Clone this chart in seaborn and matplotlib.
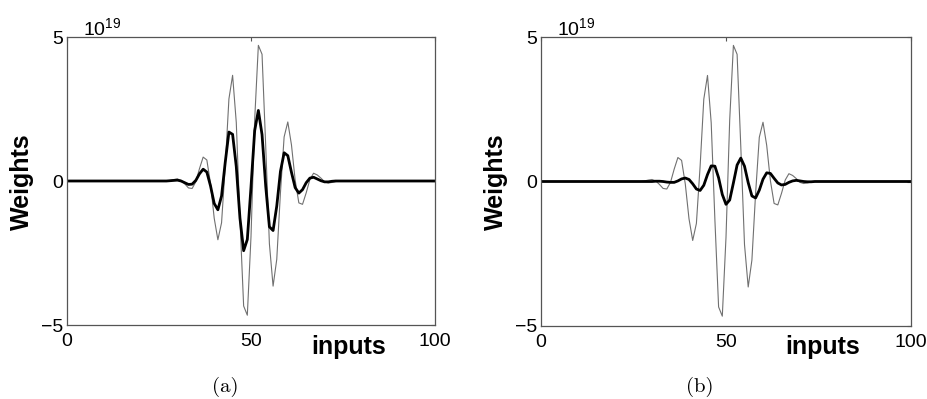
import numpy as np
import pandas as pd
import matplotlib
matplotlib.use("Agg")
import matplotlib.pyplot as plt
import seaborn as sns

# ---------------- data (weights in units of 1e19) ----------------
inputs = np.arange(0, 101)          # input index 0..100
active_start = 28                   # first index of the non-zero stretch

thin_weights = [0.02, 0.05, 0.07, 0.02, -0.10, -0.24, -0.26, -0.03, 0.43, 0.83,
                0.73, -0.09, -1.29, -2.04, -1.45, 0.52, 2.85, 3.67, 2.03, -1.33,
                -4.34, -4.66, -1.93, 2.13, 4.71, 4.40, 1.20, -2.18, -3.65, -2.72,
                -0.41, 1.53, 2.05, 1.25, 0.03, -0.76, -0.81, -0.41, 0.05, 0.27,
                0.21, 0.10, -0.03, -0.07, -0.05, -0.02]

thick_weights_a = [0.01, 0.02, 0.03, 0.00, -0.06, -0.12, -0.11, 0.02, 0.25, 0.41,
                   0.31, -0.17, -0.78, -1.00, -0.52, 0.65, 1.70, 1.62, 0.50, -1.29,
                   -2.42, -2.03, -0.21, 1.75, 2.45, 1.61, -0.18, -1.59, -1.72, -0.87,
                   0.33, 0.98, 0.88, 0.30, -0.23, -0.42, -0.30, -0.06, 0.10, 0.13,
                   0.07, 0.01, -0.03, -0.03, -0.01, 0.00]

thick_weights_b = [0.00, 0.00, 0.00, 0.01, 0.01, 0.00, -0.02, -0.03, -0.03, 0.02,
                   0.09, 0.12, 0.07, -0.08, -0.26, -0.31, -0.13, 0.24, 0.54, 0.53,
                   0.13, -0.45, -0.79, -0.64, -0.05, 0.57, 0.81, 0.53, -0.04, -0.50,
                   -0.57, -0.30, 0.08, 0.30, 0.28, 0.11, -0.05, -0.12, -0.10, -0.03,
                   0.02, 0.04, 0.02, 0.00, -0.01, -0.01]

panel_labels = ["(a)", "(b)"]
x_ticks = [0, 50, 100]
y_ticks = [-5, 0, 5]


def full(vals):
    n_tail = len(inputs) - active_start - len(vals)
    return np.concatenate([np.zeros(active_start), np.array(vals), np.zeros(n_tail)])


thin_full = full(thin_weights)
thick_sets = [full(thick_weights_a), full(thick_weights_b)]

# ---------------- style ----------------
sns.set_style("white")
plt.rcParams["font.family"] = ["Liberation Sans", "DejaVu Sans"]
plt.rcParams["axes.unicode_minus"] = True
plt.rcParams["text.color"] = "black"
plt.rcParams["axes.labelcolor"] = "black"

W, H = 928, 399
fig = plt.figure(figsize=(W / 100, H / 100), dpi=100)

axes_px = [(67, 435, 37, 325), (541, 911, 37, 326)]

for i, (l, r, t, b) in enumerate(axes_px):
    ax = fig.add_axes([l / W, 1 - b / H, (r - l) / W, (b - t) / H])
    df_thin = pd.DataFrame({"inputs": inputs, "w": thin_full})
    df_thick = pd.DataFrame({"inputs": inputs, "w": thick_sets[i]})
    sns.lineplot(data=df_thin, x="inputs", y="w", ax=ax, color="#707070",
                 linewidth=0.8, estimator=None)
    sns.lineplot(data=df_thick, x="inputs", y="w", ax=ax, color="black",
                 linewidth=2.0, estimator=None)
    ax.set_xlim(0, 100)
    ax.set_ylim(-5, 5)
    ax.set_xticks(x_ticks)
    ax.set_yticks(y_ticks)
    ax.set_xlabel("")
    ax.set_ylabel("")
    for s in ax.spines.values():
        s.set_color("#555555")
        s.set_linewidth(0.9)
    ax.tick_params(axis="both", direction="in", length=3, width=0.8,
                   colors="#555555", labelcolor="black", labelsize=14,
                   top=True, right=True)
    ax.tick_params(axis="x", pad=6)
    ax.tick_params(axis="y", pad=3)

    # multiplier label (figure pixel coordinates)
    fig.text((l + 16) / W, 1 - 35 / H, r"$\mathregular{10^{19}}$",
             fontsize=14, ha="left", va="baseline", color="black")
    # axis labels (MATLAB-like placement)
    fig.text((l + 282) / W, 1 - 347 / H, "inputs", fontsize=18,
             fontweight="bold", ha="center", va="center", color="black")
    fig.text((l - 45) / W, 1 - 182 / H, "Weights", fontsize=18,
             fontweight="bold", ha="center", va="center", rotation=90,
             color="black")
    # sub-caption
    fig.text((l + (r - l) * 0.43) / W, 1 - 387 / H, panel_labels[i],
             fontsize=15, family="cmr10", ha="center", va="center",
             color="black")

fig.savefig("out.png", dpi=100, facecolor="white")
